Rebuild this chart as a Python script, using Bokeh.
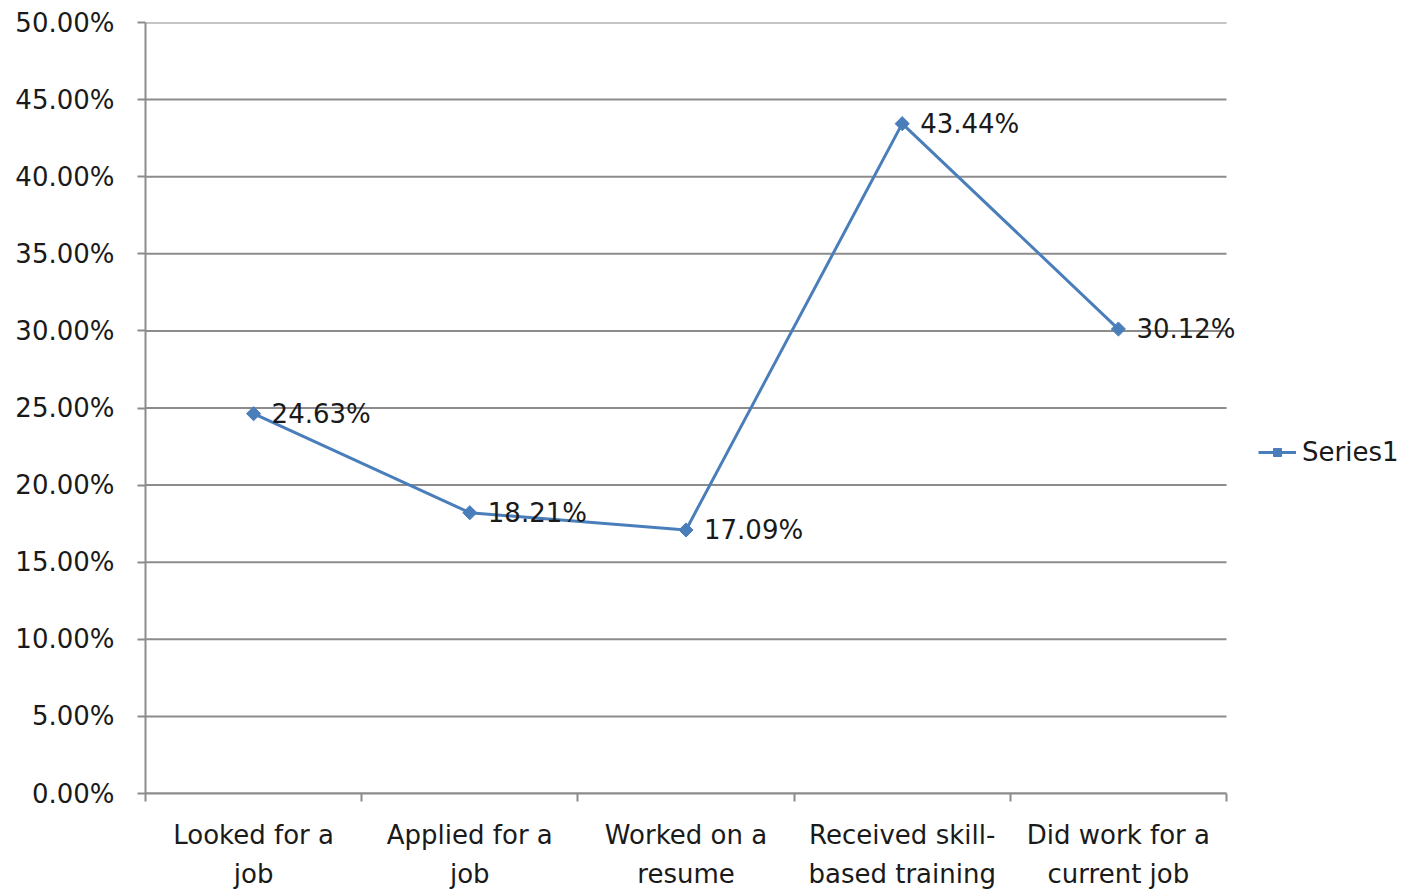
import math
from bokeh.plotting import figure
from bokeh.models import (ColumnDataSource, FixedTicker, NumeralTickFormatter, Range1d,
                          Legend, LegendItem, LinearAxis, LabelSet)
from bokeh.embed import file_html
from bokeh.resources import INLINE
from bokeh.core.properties import value

categories = ["Looked for a\njob", "Applied for a\njob", "Worked on a\nresume",
              "Received skill-\nbased training", "Did work for a\ncurrent job"]
values = [0.2463, 0.1821, 0.1709, 0.4344, 0.3012]
labels = ["24.63%", "18.21%", "17.09%", "43.44%", "30.12%"]
y_ticks = [0.0, 0.05, 0.10, 0.15, 0.20, 0.25, 0.30, 0.35, 0.40, 0.45, 0.50]

FONT = "DejaVu Sans"
FS = "26px"
BLUE = "#4a7ebb"
GRID = "#8c8c8c"
TXT = "#1a1a1a"

n = len(categories)
xs = [i + 0.5 for i in range(n)]
src = ColumnDataSource(dict(x=xs, y=values, lab=labels))

PLOT_W = 1081          # width of the category area in px
FRAME_W = 1255         # frame also holds the legend area
x_max = n * FRAME_W / PLOT_W

p = figure(frame_width=FRAME_W, frame_height=771, output_backend="svg", toolbar_location=None,
           x_range=Range1d(0, x_max), y_range=Range1d(0, 0.5), x_axis_type=None, y_axis_type=None,
           min_border_left=145, min_border_top=22, min_border_bottom=101, min_border_right=0)
p.outline_line_color = None
p.background_fill_color = "white"
p.border_fill_color = "white"
p.xgrid.visible = False
p.ygrid.visible = False

yaxis = LinearAxis(ticker=FixedTicker(ticks=y_ticks), formatter=NumeralTickFormatter(format="0.00%"))
yaxis.axis_line_color = GRID
yaxis.axis_line_width = 2
yaxis.major_tick_line_color = GRID
yaxis.major_tick_line_width = 2
yaxis.major_tick_out = 8
yaxis.major_tick_in = 0
yaxis.minor_tick_line_color = None
yaxis.major_label_text_font = FONT
yaxis.major_label_text_font_size = FS
yaxis.major_label_text_color = TXT
yaxis.major_label_standoff = 23
p.add_layout(yaxis, "left")

xaxis = LinearAxis(ticker=FixedTicker(ticks=xs, minor_ticks=list(range(n + 1))), bounds=(0, n))
xaxis.major_label_overrides = {x: c for x, c in zip(xs, categories)}
xaxis.axis_line_color = GRID
xaxis.axis_line_width = 2
xaxis.major_tick_line_color = None
xaxis.minor_tick_line_color = GRID
xaxis.minor_tick_line_width = 2
xaxis.minor_tick_out = 8
xaxis.minor_tick_in = 0
xaxis.major_label_text_font = FONT
xaxis.major_label_text_font_size = FS
xaxis.major_label_text_color = TXT
xaxis.major_label_standoff = 18
xaxis.major_label_text_line_height = 1.33
p.add_layout(xaxis, "below")

# horizontal gridlines across the category area only
p.segment(x0=[0] * len(y_ticks), x1=[n] * len(y_ticks), y0=y_ticks, y1=y_ticks,
          line_color=GRID, line_width=2)

ln = p.line("x", "y", source=src, line_color=BLUE, line_width=3)
mk = p.scatter("x", "y", source=src, marker="square", size=10, angle=math.pi / 4,
               fill_color=BLUE, line_color=BLUE)

ls = LabelSet(x="x", y="y", text="lab", source=src, x_offset=18, text_align="left",
              text_baseline="middle", text_font=value(FONT), text_font_size=value(FS),
              text_color=TXT)
p.add_layout(ls)

legend = Legend(items=[LegendItem(label="Series1", renderers=[ln, mk])])
legend.border_line_color = None
legend.background_fill_alpha = 0
legend.label_text_font = FONT
legend.label_text_font_size = FS
legend.label_text_color = TXT
legend.glyph_width = 38
legend.label_standoff = 6
legend.padding = 0
legend.margin = 0
legend.location = (1113, 326)
p.add_layout(legend)

open("out.html", "w").write(file_html(p, INLINE))
